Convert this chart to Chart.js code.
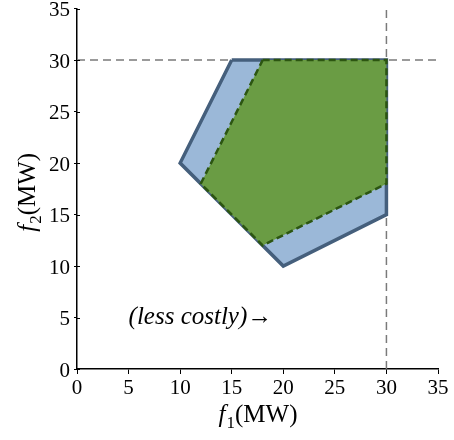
<!DOCTYPE html>
<html>
<head>
<meta charset="utf-8">
<script src="https://cdn.jsdelivr.net/npm/chart.js@4/dist/chart.umd.min.js"></script>
<style>
  body { margin: 0; background: #fff; overflow: hidden; }
  .wrap { width: 454px; height: 440px; overflow: hidden; position: relative; }
  canvas { display: block; position: absolute; left: 0; top: -8px; }
</style>
</head>
<body>
<div class="wrap"><canvas id="regionChart" width="454" height="448"></canvas></div>
<script>
// feasible region (outer polygon) and reduced region (inner polygon), MW
const outerF1 = [15, 30, 30, 20, 10, 15];
const outerF2 = [30, 30, 15, 10, 20, 30];
const innerF1 = [18, 30, 30, 18, 12, 18];
const innerF2 = [30, 30, 18, 12, 18, 30];

// limit lines and axis range
const f1Limit = 30;
const f2Limit = 30;
const axisMin = 0;
const axisMax = 35;
const tickStep = 5;

const noteText = '(less costly)\u2192';
const notePos = [5, 5];

function toPoints(xs, ys) {
    return xs.map((x, i) => ({ x: x, y: ys[i] }));
}

const serif = '"Liberation Serif", "Times New Roman", serif';

// draw "f" + subscript + "(MW)" centred at 0,0
function drawTitle(ctx, sub) {
    const big = '25px ' + serif;
    const small = '17px ' + serif;
    ctx.font = 'italic ' + big;
    const w1 = ctx.measureText('f').width;
    ctx.font = small;
    const w2 = ctx.measureText(sub).width;
    ctx.font = big;
    const w3 = ctx.measureText('(MW)').width;
    let x = -(w1 + w2 + w3) / 2;
    ctx.fillStyle = '#000';
    ctx.textBaseline = 'alphabetic';
    ctx.textAlign = 'left';
    ctx.font = 'italic ' + big;
    ctx.fillText('f', x, 0);
    x += w1 + 1;
    ctx.font = small;
    ctx.fillText(sub, x, 6);
    x += w2;
    ctx.font = big;
    ctx.fillText('(MW)', x, 0);
}

const extrasPlugin = {
    id: 'extras',
    afterDraw(chart) {
        const ctx = chart.ctx;
        const area = chart.chartArea;
        const xs = chart.scales.x;
        const ys = chart.scales.y;

        // y ticks also poke into the plot area a little
        ctx.save();
        ctx.strokeStyle = '#000';
        ctx.lineWidth = 1;
        for (let v = axisMin; v <= axisMax; v += tickStep) {
            const py = Math.round(ys.getPixelForValue(v)) + 0.5;
            ctx.beginPath();
            ctx.moveTo(area.left, py);
            ctx.lineTo(area.left + 3, py);
            ctx.stroke();
        }

        // note text
        ctx.font = 'italic 25px ' + serif;
        ctx.fillStyle = '#000';
        ctx.textAlign = 'left';
        ctx.textBaseline = 'middle';
        ctx.fillText(noteText, xs.getPixelForValue(notePos[0]), ys.getPixelForValue(notePos[1]));

        // axis titles
        ctx.save();
        ctx.translate((area.left + area.right) / 2, area.bottom + 53);
        drawTitle(ctx, '1');
        ctx.restore();

        ctx.save();
        ctx.translate(35, (area.top + area.bottom) / 2 + 4);
        ctx.rotate(-Math.PI / 2);
        drawTitle(ctx, '2');
        ctx.restore();
        ctx.restore();
    }
};

const ctx = document.getElementById('regionChart').getContext('2d');

new Chart(ctx, {
    type: 'scatter',
    data: {
        datasets: [
            {
                label: 'outer',
                data: toPoints(outerF1, outerF2),
                showLine: true,
                fill: 'shape',
                backgroundColor: '#9bb8d8',
                borderColor: '#455f7c',
                borderWidth: 3.5,
                borderJoinStyle: 'miter',
                pointRadius: 0,
                tension: 0,
                order: 2
            },
            {
                label: 'inner',
                data: toPoints(innerF1, innerF2),
                showLine: true,
                fill: 'shape',
                backgroundColor: '#6a9c44',
                borderColor: '#2c5511',
                borderWidth: 2.5,
                borderDash: [7, 4],
                pointRadius: 0,
                tension: 0,
                order: 1
            },
            {
                label: 'f2 limit',
                data: [{ x: axisMin, y: f2Limit }, { x: axisMax, y: f2Limit }],
                showLine: true,
                borderColor: '#7a7a7a',
                borderWidth: 1.5,
                borderDash: [8, 5],
                pointRadius: 0,
                order: 3
            },
            {
                label: 'f1 limit',
                data: [{ x: f1Limit, y: axisMin }, { x: f1Limit, y: axisMax }],
                showLine: true,
                borderColor: '#7a7a7a',
                borderWidth: 1.5,
                borderDash: [8, 5],
                pointRadius: 0,
                order: 3
            }
        ]
    },
    options: {
        responsive: false,
        animation: false,
        layout: { padding: { top: 8, right: 16, left: 0, bottom: 0 } },
        plugins: {
            legend: { display: false },
            tooltip: { enabled: false }
        },
        scales: {
            x: {
                type: 'linear',
                min: axisMin,
                max: axisMax,
                ticks: { stepSize: tickStep, color: '#000', font: { family: serif, size: 21 }, padding: 2, maxRotation: 0 },
                grid: { drawOnChartArea: false, drawTicks: true, tickLength: 5, color: '#000' },
                border: { color: '#000', width: 1.5 },
                afterFit(scale) { scale.height = 71; }
            },
            y: {
                type: 'linear',
                min: axisMin,
                max: axisMax,
                ticks: { stepSize: tickStep, color: '#000', font: { family: serif, size: 21 }, padding: 4, labelOffset: 2 },
                grid: { drawOnChartArea: false, drawTicks: true, tickLength: 3, color: '#000' },
                border: { color: '#000', width: 1.5 },
                afterFit(scale) { scale.width = 77; }
            }
        }
    },
    plugins: [extrasPlugin]
});
</script>
</body>
</html>
